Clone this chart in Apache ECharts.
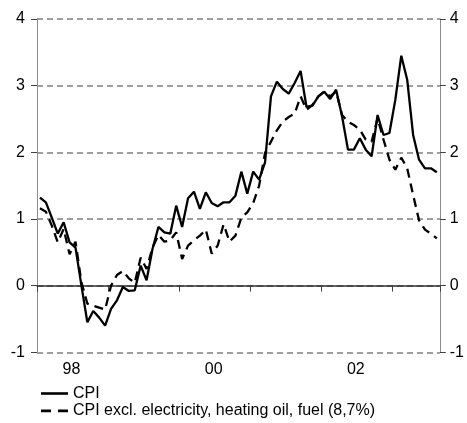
<!DOCTYPE html>
<html>
<head>
<meta charset="utf-8">
<script src="https://cdn.jsdelivr.net/npm/echarts@6/dist/echarts.min.js"></script>
<style>
  html, body { margin: 0; padding: 0; background: #fff; }
  #chart { width: 467px; height: 423px; }
</style>
</head>
<body>
<div id="chart"></div>
<script>
// Monthly observations, January 1998 to August 2003
const years = [1998, 1999, 2000, 2001, 2002, 2003];
const monthsInLastYear = 8;
const months = [];
years.forEach(function (y, k) {
  const n = k === years.length - 1 ? monthsInLastYear : 12;
  for (let m = 1; m <= n; m++) months.push(y + '-' + (m < 10 ? '0' + m : m));
});

// Year-on-year change, per cent
const cpi = [
  1.32, 1.25, 1.02, 0.78, 0.95, 0.65, 0.57, 0.0, -0.55, -0.38, -0.48, -0.6,
  -0.35, -0.22, -0.02, -0.08, -0.07, 0.3, 0.08, 0.55, 0.88, 0.8, 0.78, 1.2,
  0.88, 1.31, 1.41, 1.15, 1.4, 1.24, 1.19, 1.25, 1.25, 1.35, 1.71, 1.38,
  1.71, 1.59, 1.85, 2.84, 3.06, 2.95, 2.88, 3.04, 3.22, 2.68, 2.7, 2.84,
  2.91, 2.8, 2.94, 2.54, 2.04, 2.04, 2.21, 2.04, 1.94, 2.56, 2.26, 2.29,
  2.79, 3.45, 3.09, 2.26, 1.89, 1.76, 1.76, 1.7
];
const cpiExcl = [
  1.16, 1.11, 0.9, 0.65, 0.85, 0.47, 0.66, 0.05, -0.27, -0.3, -0.33, -0.36,
  0.0, 0.16, 0.22, 0.11, 0.04, 0.42, 0.25, 0.57, 0.76, 0.66, 0.68, 0.8,
  0.4, 0.6, 0.68, 0.75, 0.84, 0.48, 0.6, 0.92, 0.66, 0.75, 1.02, 1.1,
  1.24, 1.5, 1.99, 2.16, 2.33, 2.46, 2.53, 2.58, 2.84, 2.64, 2.71, 2.84,
  2.91, 2.84, 2.91, 2.56, 2.46, 2.41, 2.34, 2.19, 2.16, 2.51, 2.19, 1.89,
  1.74, 1.92, 1.76, 1.36, 0.98, 0.84, 0.78, 0.71
];

const seriesNames = ['CPI', 'CPI excl. electricity, heating oil, fuel (8,7%)'];
const yMin = -1, yMax = 4, yStep = 1;

const FONT = "'Liberation Sans', Arial, sans-serif";
const chart = echarts.init(document.getElementById('chart'), null, { renderer: 'canvas' });

const valueAxisBase = {
  type: 'value',
  min: yMin,
  max: yMax,
  interval: yStep,
  axisLine: { show: true, lineStyle: { color: '#8c8c8c', width: 1 } },
  axisTick: { show: true, length: 6, lineStyle: { color: '#404040', width: 1 } },
  axisLabel: { color: '#000', fontFamily: FONT, fontSize: 16 }
};

// One legend row per series, stacked under the plot
const legendRow = function (name, icon, top) {
  return {
    left: 36,
    top: top,
    padding: 5,
    itemWidth: 27,
    itemHeight: 2.6,
    itemGap: 0,
    itemStyle: { color: '#000', borderWidth: 0 },
    lineStyle: { width: 0 },
    textStyle: { color: '#000', fontFamily: FONT, fontSize: 16, lineHeight: 16 },
    data: [{ name: name, icon: icon }]
  };
};

chart.setOption({
  animation: false,
  backgroundColor: '#fff',
  grid: { left: 37, right: 25, top: 19, bottom: 70.7, containLabel: false },
  legend: [
    legendRow(seriesNames[0], 'path://M0,0H27V2.6H0Z', 380.5),
    legendRow(seriesNames[1], 'path://M0,0H10V2.6H0Z M17,0H27V2.6H17Z', 397.9)
  ],
  xAxis: {
    type: 'category',
    data: months,
    boundaryGap: true,
    axisLine: { show: true, lineStyle: { color: '#808080', width: 1.5, type: [6, 4] } },
    axisTick: {
      show: true,
      length: 6,
      interval: function (i) { return i % 12 === 0; },
      lineStyle: { color: '#404040', width: 1 }
    },
    axisLabel: {
      color: '#000',
      fontFamily: FONT,
      fontSize: 16,
      margin: 9,
      padding: [0, 8, 0, 0],
      interval: function (i) { return i % 24 === 6; },
      formatter: function (v) { return v.slice(2, 4); }
    },
    splitLine: { show: false }
  },
  yAxis: [
    Object.assign({}, valueAxisBase, {
      position: 'left',
      axisLabel: Object.assign({}, valueAxisBase.axisLabel, { margin: 12 }),
      splitLine: { show: true, lineStyle: { color: '#808080', width: 1.5, type: [6, 4] } }
    }),
    Object.assign({}, valueAxisBase, {
      position: 'right',
      axisLabel: Object.assign({}, valueAxisBase.axisLabel, { margin: 10 }),
      splitLine: { show: false }
    })
  ],
  series: [
    {
      name: seriesNames[0],
      type: 'line',
      data: cpi,
      showSymbol: false,
      symbol: 'none',
      lineStyle: { color: '#000', width: 2.3, type: 'solid' },
      itemStyle: { color: '#000' },
      z: 4,
      markLine: {
        silent: true,
        symbol: 'none',
        label: { show: false },
        lineStyle: { color: '#333', width: 1.6, type: 'solid' },
        data: [{ yAxis: 0 }],
        z: 1
      }
    },
    {
      name: seriesNames[1],
      type: 'line',
      data: cpiExcl,
      showSymbol: false,
      symbol: 'none',
      lineStyle: { color: '#000', width: 2.3, type: [9, 6] },
      itemStyle: { color: '#000' },
      z: 3
    }
  ]
});
</script>
</body>
</html>
